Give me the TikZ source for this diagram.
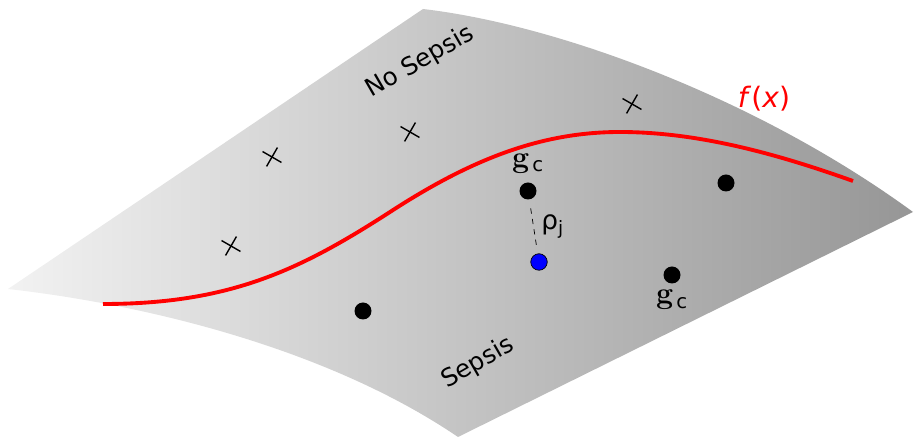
\documentclass[tikz,border=0pt]{standalone}
\usepackage{amsmath}
\usepackage[no-math]{fontspec}
\setmainfont{DejaVu Sans}
\usetikzlibrary{positioning,shapes.misc}
\definecolor{surfleft}{RGB}{242,242,242}
\definecolor{surfright}{RGB}{150,150,150}
\definecolor{curvered}{RGB}{255,0,0}

\begin{document}
\begin{tikzpicture}[
  x=0.02cm, y=-0.02cm,
  font=\fontsize{14}{16}\selectfont,
  sample/.style={circle, fill=black, minimum size=0.34cm, inner sep=0pt},
  query/.style={circle, fill=blue, draw=black, thin, minimum size=0.33cm, inner sep=0pt},
  nomark/.style={cross out, draw=black, line width=0.8pt, minimum size=0.28cm, inner sep=0pt, rotate=15},
  region/.style={rotate=30}
]
\useasboundingbox (0,0) rectangle (914,438);

% Curved decision surface
\shade[left color=surfleft, right color=surfright]
  (8,289) -- (423,9)
  .. controls (560,25) and (760,100) .. (913,212)
  -- (458,437)
  .. controls (330,350) and (150,305) .. (8,289) -- cycle;

% Region labels
\node[region] (nosep) at (420,62) {No Sepsis};
\node[region] (sep) at (478,363) {Sepsis};

% Decision boundary
\draw[curvered, line width=2.2pt]
  (103,304) .. controls (230,304) and (300,270) .. (390,212)
  .. controls (470,160) and (540,132) .. (620,132)
  .. controls (700,132) and (780,155) .. (853,181);
\node[text=curvered, font=\fontsize{16}{18}\selectfont] (fx) at (764,99) {\textit{f}(\textit{x})};

% Negative samples
\node[nomark] (xa) at (231,246) {};
\node[nomark] (xb) at (272,157) {};
\node[nomark] (xc) at (410,132) {};
\node[nomark] (xd) at (632,104) {};

% Positive samples
\node[sample] (pa) at (363,311) {};
\node[sample] (pb) at (528,191) {};
\node[sample] (pc) at (672,275) {};
\node[sample] (pd) at (726,183) {};

% Query point and prototypes
\node[query] (qj) at (539,262) {};
\node[above=0.06cm of pb, font=\fontsize{16}{18}\selectfont] (gup) {$\mathbf{g}_{\,\text{c}}$};
\node[below=0.0cm of pc, font=\fontsize{16}{18}\selectfont] (gdown) {$\mathbf{g}_{\,\text{c}}$};

\draw[dashed, thin, shorten <=5pt, shorten >=5pt] (pb) -- (qj)
  node[midway, right=1pt, font=\fontsize{15}{17}\selectfont] (rho) {ρ$_{\text{j}}$};

\end{tikzpicture}
\end{document}
